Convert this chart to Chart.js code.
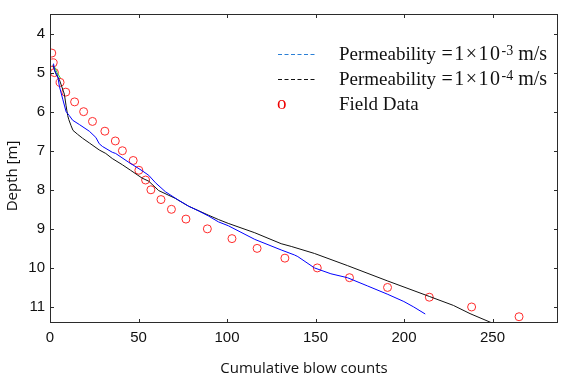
<!DOCTYPE html>
<html>
<head>
<meta charset="utf-8">
<script src="https://cdn.jsdelivr.net/npm/chart.js@4.4.1/dist/chart.umd.min.js"></script>
<style>
  html, body { margin: 0; padding: 0; background: #fff; }
  #wrap { width: 563px; height: 378px; position: relative; }
</style>
</head>
<body>
<div id="wrap"><canvas id="chart"></canvas></div>
<script>
// field measurements (cumulative blows vs depth)
const fieldBlows = [1, 1.8, 2.5, 5.7, 8.9, 13.9, 19, 24, 31, 36.9, 40.9, 47, 50.2, 54, 57, 62.7, 68.6, 76.8, 88.9, 102.8, 117, 132.7, 151, 169.2, 190.7, 214.3, 238.2, 265];
const fieldDepth = [4.5, 4.75, 5.0, 5.25, 5.5, 5.75, 6.0, 6.25, 6.5, 6.75, 7.0, 7.25, 7.5, 7.75, 8.0, 8.25, 8.5, 8.75, 9.0, 9.25, 9.5, 9.75, 10.0, 10.25, 10.5, 10.75, 11.0, 11.25];

// simulation, permeability 1e-3 m/s
const blueBlows = [2, 2.5, 4.4, 5.3, 7.2, 9.1, 10.9, 12.8, 16.6, 22.2, 25.9, 27.8, 29.6, 35.2, 37.1, 44.6, 52, 55.8, 59.6, 65.2, 72.7, 78.3, 83.9, 89.5, 95.1, 100.7, 115.7, 130.6, 138.2, 140, 149.4, 158.7, 168, 179.3, 190.5, 199.9, 205.5, 212];
const blueDepth = [4.77, 4.93, 5.1, 5.35, 5.68, 6.0, 6.1, 6.22, 6.33, 6.5, 6.66, 6.82, 6.89, 7.04, 7.07, 7.3, 7.51, 7.63, 7.82, 8.05, 8.27, 8.42, 8.54, 8.67, 8.82, 8.92, 9.27, 9.54, 9.67, 9.71, 10.0, 10.15, 10.25, 10.46, 10.67, 10.86, 11.0, 11.18];

// simulation, permeability 1e-4 m/s
const blackBlows = [1.6, 2.5, 3.5, 5.3, 8.1, 9.1, 10, 10.6, 11.9, 13, 15.6, 18.4, 22.2, 27.8, 31.5, 35.2, 40.9, 45.5, 52, 55.8, 61.4, 70.8, 78.3, 89.5, 95.1, 100.7, 115.7, 130.6, 136.3, 149.4, 168, 190.5, 214.3, 227.9, 237.3, 249.8];
const blackDepth = [4.8, 4.93, 5.05, 5.18, 5.55, 5.85, 6.1, 6.2, 6.36, 6.48, 6.58, 6.68, 6.8, 6.98, 7.07, 7.2, 7.36, 7.5, 7.7, 7.78, 8.02, 8.22, 8.42, 8.65, 8.76, 8.86, 9.1, 9.38, 9.45, 9.63, 9.94, 10.33, 10.73, 10.96, 11.17, 11.41];

// short green trace near the top
const greenBlows = [2.5, 4.0, 5.9];
const greenDepth = [4.85, 5.0, 5.14];

const xTicks = [0, 50, 100, 150, 200, 250];
const yTicks = [4, 5, 6, 7, 8, 9, 10, 11];

function toPoints(xs, ys) {
  return xs.map((x, i) => ({ x, y: ys[i] }));
}

// frame, inward tick marks on all four sides, y title and legend
const framePlugin = {
  id: 'frame',
  afterDraw(chart) {
    const { ctx, chartArea: a, scales } = chart;
    ctx.save();
    ctx.strokeStyle = '#2b2b2b';
    ctx.lineWidth = 1;
    ctx.strokeRect(a.left + 0.5, a.top + 0.5, a.right - a.left - 1, a.bottom - a.top - 1);
    const len = 4;
    ctx.beginPath();
    xTicks.forEach((v) => {
      const px = Math.round(scales.x.getPixelForValue(v)) + 0.5;
      ctx.moveTo(px, a.bottom); ctx.lineTo(px, a.bottom - len);
      ctx.moveTo(px, a.top); ctx.lineTo(px, a.top + len);
    });
    yTicks.forEach((v) => {
      const py = Math.round(scales.y.getPixelForValue(v)) + 0.5;
      ctx.moveTo(a.left, py); ctx.lineTo(a.left + len, py);
      ctx.moveTo(a.right, py); ctx.lineTo(a.right - len, py);
    });
    ctx.stroke();

    // y axis title
    ctx.fillStyle = '#111';
    ctx.font = '15px "Open Sans"';
    ctx.textAlign = 'center';
    ctx.textBaseline = 'middle';
    ctx.translate(13, 176);
    ctx.rotate(-Math.PI / 2);
    ctx.fillText('Depth [m]', 0, 0);
    ctx.restore();

    // legend
    ctx.save();
    const rows = [
      { color: '#2a7fd6', sup: '-3', y: 60 },
      { color: '#111', sup: '-4', y: 85 },
    ];
    const tx = 339;
    ctx.textBaseline = 'alphabetic';
    ctx.textAlign = 'left';
    rows.forEach((r) => {
      ctx.strokeStyle = r.color;
      ctx.lineWidth = 1;
      ctx.setLineDash([4, 2.5]);
      ctx.beginPath();
      ctx.moveTo(278, r.y - 5.5);
      ctx.lineTo(316, r.y - 5.5);
      ctx.stroke();
      ctx.setLineDash([]);
      ctx.fillStyle = '#111';
      ctx.font = '19px "Liberation Serif"';
      ctx.fillText('Permeability', tx, r.y);
      let x = 441.5;
      ctx.font = '20px "Liberation Serif"';
      ctx.letterSpacing = '1.5px';
      ctx.fillText('=1\u00d710', x, r.y);
      x += ctx.measureText('=1\u00d710').width;
      ctx.letterSpacing = '0px';
      ctx.font = '14px "Liberation Serif"';
      ctx.fillText(r.sup, x, r.y - 5);
      x += ctx.measureText(r.sup).width;
      ctx.font = '20px "Liberation Serif"';
      ctx.fillText(' m/s', x, r.y);
    });
    ctx.fillStyle = '#e00';
    ctx.font = '19px "Liberation Serif"';
    ctx.fillText('o', 277, 109);
    ctx.fillStyle = '#111';
    ctx.fillText('Field Data', tx, 110);
    ctx.restore();
  },
};

const ctx = document.getElementById('chart').getContext('2d');
new Chart(ctx, {
  type: 'scatter',
  data: {
    datasets: [
      {
        label: 'Permeability 1e-3',
        data: toPoints(blueBlows, blueDepth),
        showLine: true,
        borderColor: '#0000ff',
        borderWidth: 1,
        pointRadius: 0,
        tension: 0,
      },
      {
        label: 'Permeability 1e-4',
        data: toPoints(blackBlows, blackDepth),
        showLine: true,
        borderColor: '#111',
        borderWidth: 1,
        pointRadius: 0,
        tension: 0,
      },
      {
        label: 'green',
        data: toPoints(greenBlows, greenDepth),
        showLine: true,
        borderColor: '#22dd22',
        borderWidth: 1,
        pointRadius: 0,
      },
      {
        label: 'Field Data',
        data: toPoints(fieldBlows, fieldDepth),
        showLine: false,
        borderColor: '#ff2a2a',
        backgroundColor: 'rgba(0,0,0,0)',
        borderWidth: 1,
        pointRadius: 4,
      },
    ],
  },
  options: {
    responsive: true,
    maintainAspectRatio: false,
    animation: false,
    events: [],
    layout: { padding: { top: 6, right: 1, left: 0, bottom: 0 } },
    plugins: {
      legend: { display: false },
      tooltip: { enabled: false },
    },
    scales: {
      x: {
        type: 'linear',
        min: 0,
        max: 287,
        afterBuildTicks(scale) { scale.ticks = xTicks.map((v) => ({ value: v })); },
        afterFit(scale) { scale.height = 55; },
        grid: { display: false, drawTicks: false },
        border: { display: false },
        ticks: {
          color: '#111',
          padding: 6,
          maxRotation: 0,
          font: { family: 'Liberation Sans', size: 15 },
        },
        title: {
          display: true,
          text: 'Cumulative blow counts',
          color: '#111',
          padding: { top: 0, bottom: 0 },
          font: { family: 'Open Sans', size: 15 },
        },
      },
      y: {
        type: 'linear',
        reverse: true,
        min: 3.5,
        max: 11.41,
        afterBuildTicks(scale) { scale.ticks = yTicks.map((v) => ({ value: v })); },
        afterFit(scale) { scale.width = 50; },
        grid: { display: false, drawTicks: false },
        border: { display: false },
        ticks: {
          color: '#111',
          padding: 5,
          font: { family: 'Liberation Sans', size: 15 },
        },
      },
    },
  },
  plugins: [framePlugin],
});
</script>
</body>
</html>
